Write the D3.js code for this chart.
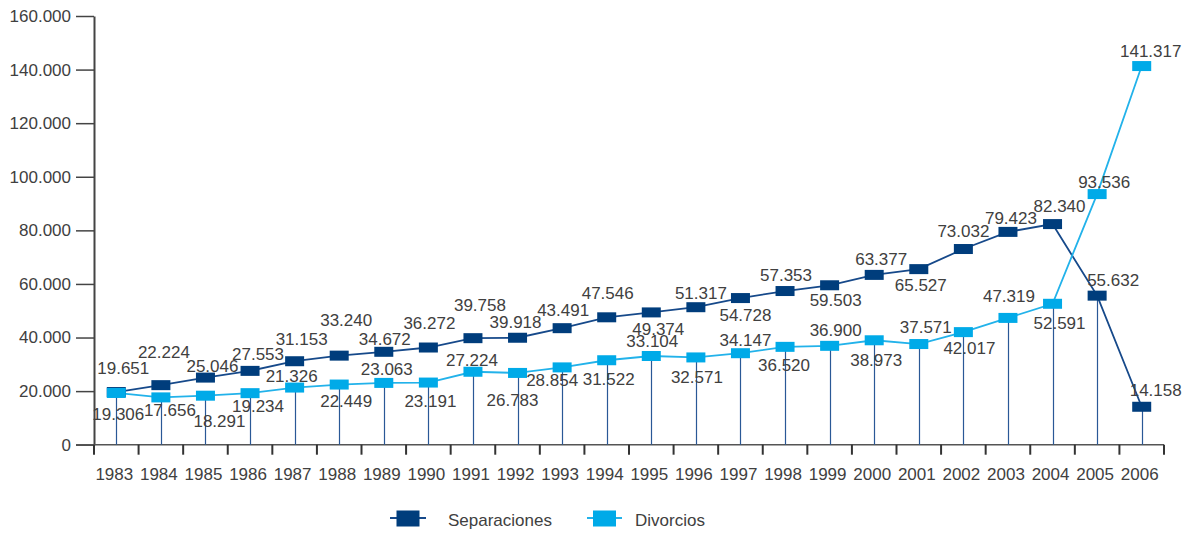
<!DOCTYPE html>
<html>
<head>
<meta charset="utf-8">
<script src="https://cdn.jsdelivr.net/npm/d3@7"></script>
<style>
  body { margin: 0; background: #fff; }
  text { font-family: "Liberation Sans", Arial, sans-serif; fill: #404040; }
</style>
</head>
<body>
<div id="chartDiv"></div>
<script>
var years = [1983, 1984, 1985, 1986, 1987, 1988, 1989, 1990, 1991, 1992, 1993, 1994,
             1995, 1996, 1997, 1998, 1999, 2000, 2001, 2002, 2003, 2004, 2005, 2006];

var separaciones = [19651, 22224, 25046, 27553, 31153, 33240, 34672, 36272, 39758, 39918, 43491, 47546,
                    49374, 51317, 54728, 57353, 59503, 63377, 65527, 73032, 79423, 82340, 55632, 14158];

var divorcios = [19306, 17656, 18291, 19234, 21326, 22449, 23063, 23191, 27224, 26783, 28854, 31522,
                 33104, 32571, 34147, 36520, 36900, 38973, 37571, 42017, 47319, 52591, 93536, 141317];

var yTicks = [0, 20000, 40000, 60000, 80000, 100000, 120000, 140000, 160000];

var seriesNames = ["Separaciones", "Divorcios"];

// label nudges (px) from the marker centre
var sepLabelDx = [7, 3, 7, 8, 7, 7, 1, 1, 7, -2, 1, 1, 7, 5, 5, 1, 6, 7, 2, 0, 3, 7, 16, 14];
var sepLabelDy = [-18, -27, -6, -11, -16, -30, -7, -19, -27, -10, -12, -18, 23, -8, 23, -10, 21, -10, 22, -12, -8, -12, -10, -11];
var divLabelDx = [2, 9, 14, 8, -3, 7, 3, 2, -1, -5, -10, 2, 1, 1, 5, -1, 6, 2, 7, 6, 1, 7, 7, 9];
var divLabelDy = [27, 19, 31, 19, -6, 22, -8, 24, -6, 33, 19, 25, -9, 26, -7, 24, -10, 26, -11, 22, -16, 25, -6, -9];

var width = 1197;
var height = 533;
var plot = { left: 94, right: 1164, top: 16, bottom: 444.7 };

var darkBlue = "#003d7c";
var lightBlue = "#00aae8";
var markerW = 19;
var markerH = 10;

var locale = d3.formatLocale({ decimal: ",", thousands: ".", grouping: [3], currency: ["", "€"] });
var fmt = locale.format(",d");

var x = d3.scaleBand().domain(years).range([plot.left, plot.right]);
var y = d3.scaleLinear().domain([0, 160000]).range([plot.bottom, plot.top]);

function cx(i) { return x(years[i]) + x.bandwidth() / 2; }

var chart = d3.select("#chartDiv").append("svg")
    .attr("width", width)
    .attr("height", height);

// y axis
var yAxis = d3.axisLeft(y)
    .tickValues(yTicks)
    .tickSize(18)
    .tickSizeOuter(0)
    .tickPadding(5)
    .tickFormat(function(d) { return fmt(d); });

var yg = chart.append("g")
    .attr("transform", "translate(" + plot.left + ",0)")
    .call(yAxis);
yg.select(".domain").attr("stroke", "#444").attr("stroke-width", 2);
yg.selectAll(".tick line").attr("stroke", "#444").attr("stroke-width", 1.5);
yg.selectAll(".tick text")
    .style("font-size", "17px")
    .style("font-family", "Liberation Sans, Arial, sans-serif")
    .attr("fill", "#404040");

// x axis: base line plus ticks at band edges
chart.append("line")
    .attr("x1", plot.left - 18).attr("x2", plot.right)
    .attr("y1", y(0)).attr("y2", y(0))
    .attr("stroke", "#555").attr("stroke-width", 1.5);

var edges = years.map(function(d) { return x(d); }).concat([plot.right]);
chart.selectAll(".xtick")
    .data(edges)
    .enter().append("line")
    .attr("class", "xtick")
    .attr("x1", function(d) { return d; })
    .attr("x2", function(d) { return d; })
    .attr("y1", y(0))
    .attr("y2", y(0) + 10)
    .attr("stroke", "#333")
    .attr("stroke-width", 2);

chart.selectAll(".xlabel")
    .data(years)
    .enter().append("text")
    .attr("class", "xlabel")
    .attr("x", function(d, i) { return cx(i) - 2; })
    .attr("y", 480)
    .attr("text-anchor", "middle")
    .style("font-size", "17px")
    .text(function(d) { return d; });

// drop lines from the lower marker down to the axis
chart.selectAll(".drop")
    .data(years)
    .enter().append("line")
    .attr("class", "drop")
    .attr("x1", function(d, i) { return Math.round(cx(i)) + 0.5; })
    .attr("x2", function(d, i) { return Math.round(cx(i)) + 0.5; })
    .attr("y1", function(d, i) { return y(Math.min(separaciones[i], divorcios[i])); })
    .attr("y2", y(0))
    .attr("stroke", "#2a5896")
    .attr("stroke-width", 1.2);

var line = d3.line()
    .x(function(d, i) { return cx(i); })
    .y(function(d) { return y(d); });

chart.append("path")
    .datum(separaciones)
    .attr("fill", "none")
    .attr("stroke", "#16498a")
    .attr("stroke-width", 1.8)
    .attr("d", line);

chart.append("path")
    .datum(divorcios)
    .attr("fill", "none")
    .attr("stroke", "#22b2ea")
    .attr("stroke-width", 1.8)
    .attr("d", line);

function drawMarkers(values, color, cls) {
    chart.selectAll("." + cls)
        .data(values)
        .enter().append("rect")
        .attr("class", cls)
        .attr("x", function(d, i) { return cx(i) - markerW / 2; })
        .attr("y", function(d) { return y(d) - markerH / 2; })
        .attr("width", markerW)
        .attr("height", markerH)
        .attr("fill", color);
}
drawMarkers(separaciones, darkBlue, "sepDot");
drawMarkers(divorcios, lightBlue, "divDot");

function drawLabels(values, dx, dy, cls) {
    chart.selectAll("." + cls)
        .data(values)
        .enter().append("text")
        .attr("class", cls)
        .attr("x", function(d, i) { return cx(i) + dx[i]; })
        .attr("y", function(d, i) { return y(d) + dy[i]; })
        .attr("text-anchor", "middle")
        .style("font-size", "17px")
        .text(function(d) { return fmt(d); });
}
drawLabels(separaciones, sepLabelDx, sepLabelDy, "sepLabel");
drawLabels(divorcios, divLabelDx, divLabelDy, "divLabel");

// legend
var legend = chart.append("g").attr("class", "legend");
var legendItems = [
    { name: seriesNames[0], color: darkBlue, line: "#16498a", x: 390, w: 36, tx: 448 },
    { name: seriesNames[1], color: lightBlue, line: "#22b2ea", x: 587, w: 35, tx: 635 }
];
legendItems.forEach(function(it) {
    legend.append("line")
        .attr("x1", it.x).attr("x2", it.x + it.w)
        .attr("y1", 518).attr("y2", 518)
        .attr("stroke", it.line).attr("stroke-width", 2);
    legend.append("rect")
        .attr("x", it.x + it.w / 2 - 11.5)
        .attr("y", 510.5)
        .attr("width", 23)
        .attr("height", 16)
        .attr("fill", it.color);
    legend.append("text")
        .attr("x", it.tx)
        .attr("y", 526)
        .style("font-size", "17px")
        .text(it.name);
});
</script>
</body>
</html>
